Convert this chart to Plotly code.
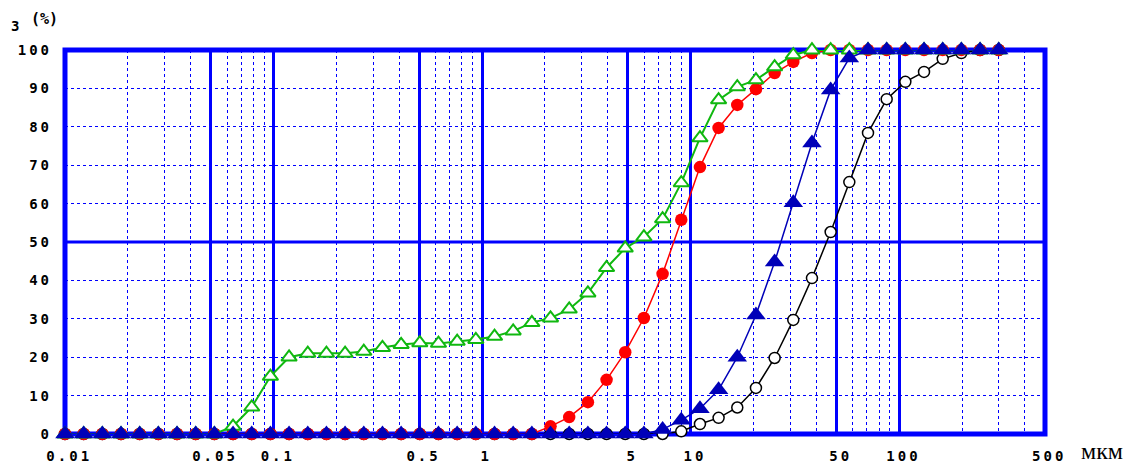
import math
import plotly.graph_objects as go

# Particle size classes, micrometres
size_um = [0.0100, 0.01229, 0.01510, 0.01856, 0.02281, 0.02803, 0.03445, 0.04234,
           0.05203, 0.06394, 0.07858, 0.09659, 0.1187, 0.1459, 0.1793, 0.2203,
           0.2708, 0.3328, 0.4090, 0.5026, 0.6177, 0.7591, 0.9330, 1.147,
           1.409, 1.732, 2.128, 2.616, 3.215, 3.951, 4.856, 5.967,
           7.334, 9.013, 11.08, 13.61, 16.73, 20.56, 25.27, 31.05,
           38.16, 46.90, 57.64, 70.84, 87.07, 107.0, 131.5, 161.6,
           198.6, 244.1, 300.0]

# Cumulative undersize Q3, %
q_black = [0] * 33 + [0.7, 2.6, 4.2, 6.9, 12.0, 19.8, 29.7, 40.6, 52.6, 65.6,
                      78.4, 87.2, 91.7, 94.3, 97.7, 99.2, 100, 100]
q_red = [0] * 26 + [2.0, 4.4, 8.3, 14.1, 21.3, 30.2, 41.7, 55.8, 69.5, 79.7,
                    85.7, 89.8, 94.0, 96.9, 99.2] + [100] * 10
q_green = [0] * 9 + [2.0, 7.0, 15.0, 20.0, 21.0, 21.0, 21.0, 21.5, 22.5, 23.3,
                     23.7, 23.6, 24.1, 24.6, 25.4, 26.8, 29.0, 30.2, 32.5, 36.7,
                     43.3, 48.4, 51.3, 56.0, 65.4, 77.1, 87.0, 90.4, 92.2, 95.6,
                     98.7] + [100] * 11
q_blue = [0] * 32 + [1.2, 3.6, 6.6, 11.5, 20.0, 31.0, 44.8, 60.2, 75.8, 89.6,
                     97.9] + [100] * 8

x_major = [0.01, 0.05, 0.1, 0.5, 1, 5, 10, 50, 100, 500]
x_major_text = ["0.01", "0.05", "0.1", "0.5", "1", "5", "10", "50", "100", "500"]
x_minor = [0.02, 0.03, 0.04, 0.06, 0.07, 0.08, 0.09,
           0.2, 0.3, 0.4, 0.6, 0.7, 0.8, 0.9,
           2, 3, 4, 6, 7, 8, 9,
           20, 30, 40, 60, 70, 80, 90,
           200, 300, 400]
y_ticks = [0, 10, 20, 30, 40, 50, 60, 70, 80, 90, 100]

GRID = "#0000ff"
W, H = 1126, 465
ML, MR, MT, MB = 65, 81, 50, 31
PW, PH = W - ML - MR, H - MT - MB


def spaced(t, lead=""):
    return lead + '<span style="letter-spacing:3px">' + t + '</span>'


def px_x(p):
    return (p - ML) / PW


def px_y(p):
    return (H - MB - p) / PH


fig = go.Figure()

fig.add_trace(go.Scatter(
    x=size_um, y=q_black, mode="lines+markers", cliponaxis=False,
    line=dict(color="black", width=1.5),
    marker=dict(symbol="circle", size=11, color="white",
                line=dict(color="black", width=1.5)),
))
fig.add_trace(go.Scatter(
    x=size_um, y=q_red, mode="lines+markers", cliponaxis=False,
    line=dict(color="#ff0000", width=1.5),
    marker=dict(symbol="circle", size=12.5, color="#ff0000", line=dict(width=0)),
))
fig.add_trace(go.Scatter(
    x=size_um, y=q_green, mode="lines+markers", cliponaxis=False,
    line=dict(color="#10b810", width=2),
    marker=dict(symbol="triangle-up", size=13.5, color="white",
                line=dict(color="#10b810", width=2)),
))
fig.add_trace(go.Scatter(
    x=size_um, y=q_blue, mode="lines+markers", cliponaxis=False,
    line=dict(color="#0000b8", width=1.5),
    marker=dict(symbol="triangle-up", size=17, color="#0000b8", line=dict(width=0)),
))

tick_font = dict(family="DejaVu Sans Mono", size=14, color="black", weight="bold")

fig.update_xaxes(
    type="log", range=[-2, math.log10(500)],
    tickmode="array", tickvals=x_major,
    ticktext=[spaced(t, "\u00a0") for t in x_major_text],
    showgrid=True, gridcolor=GRID, gridwidth=3,
    minor=dict(tickmode="array", tickvals=x_minor, showgrid=True, gridcolor=GRID,
               gridwidth=1, griddash="3px,3px", ticks=""),
    zeroline=False, showline=False, ticks="", tickfont=tick_font,
    ticklabelstandoff=12, automargin=False,
)
fig.update_yaxes(
    range=[0, 100], tickmode="array", tickvals=y_ticks,
    ticktext=[spaced(str(v)) for v in y_ticks],
    showgrid=True, gridcolor=GRID, gridwidth=1, griddash="3px,3px",
    zeroline=False, showline=False, ticks="", tickfont=tick_font,
    ticklabelstandoff=12, automargin=False,
)

# Frame and the 50 % reference line
fig.add_shape(type="rect", xref="paper", yref="paper", x0=0, x1=1, y0=0, y1=1,
              line=dict(color=GRID, width=5), layer="between")
fig.add_shape(type="line", xref="paper", yref="y", x0=0, x1=1, y0=50, y1=50,
              line=dict(color=GRID, width=3), layer="between")

fig.add_annotation(xref="paper", yref="paper", x=px_x(15), y=px_y(26),
                   xanchor="center", yanchor="middle",
                   text="3", showarrow=False,
                   font=dict(family="DejaVu Sans Mono", size=14, color="black", weight="bold"))
fig.add_annotation(xref="paper", yref="paper", x=px_x(44), y=px_y(19),
                   xanchor="center", yanchor="middle",
                   text="(%)", showarrow=False,
                   font=dict(family="DejaVu Sans Mono", size=15, color="black", weight="bold"))
fig.add_annotation(xref="paper", yref="paper", x=px_x(1102), y=px_y(466),
                   xanchor="center", yanchor="bottom", text="мкм", showarrow=False,
                   font=dict(family="Liberation Serif", size=24, color="black"))

fig.update_layout(
    width=W, height=H,
    margin=dict(l=ML, r=MR, t=MT, b=MB, autoexpand=False),
    paper_bgcolor="white", plot_bgcolor="white",
    showlegend=False,
)

fig.write_html("out.html")
